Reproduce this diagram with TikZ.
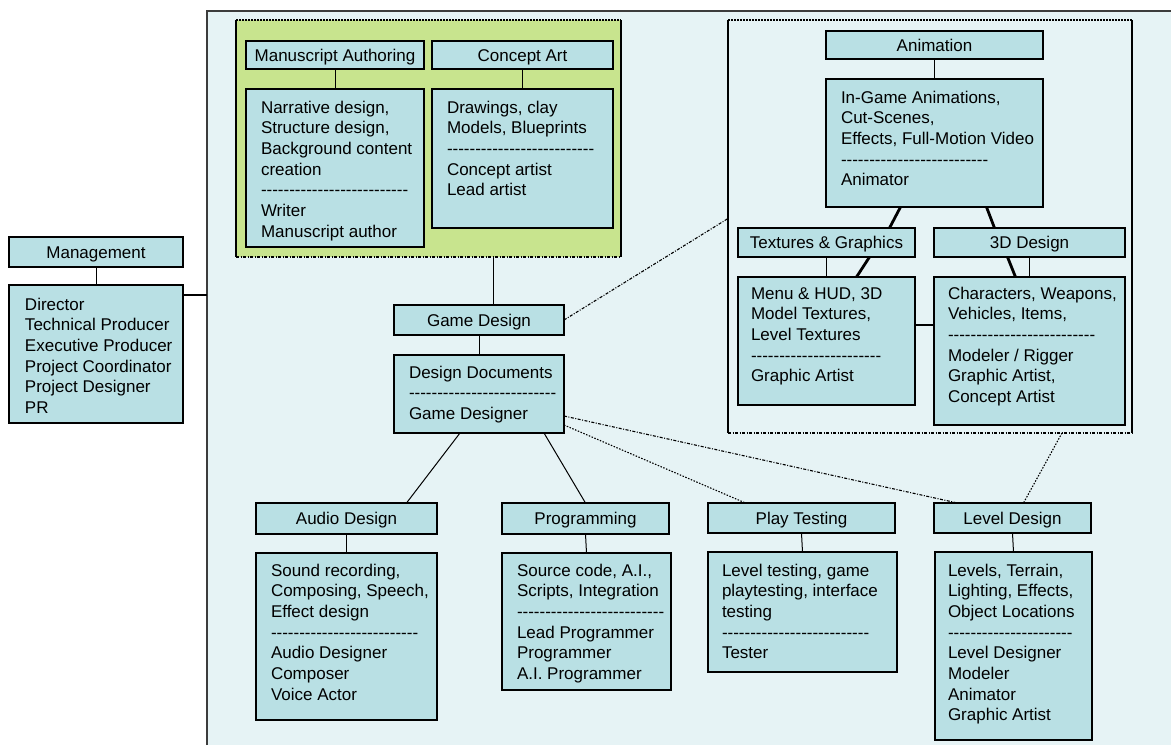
\documentclass[tikz,border=0pt]{standalone}
\usepackage{fontspec}
\setmainfont{Liberation Sans}
\usetikzlibrary{calc}
\definecolor{boxc}{RGB}{185,224,228}
\definecolor{bgc}{RGB}{230,243,245}
\definecolor{greenc}{RGB}{200,228,142}
\definecolor{framec}{RGB}{60,60,60}
\newcount\hycnt
\newcommand\dashes[1]{\hycnt=#1\relax\loop\ifnum\hycnt>0 -\kern0pt\advance\hycnt by -1\relax\repeat}
\newcommand\fs{\fontsize{17pt}{20.7pt}\selectfont}
\newcommand\bt[5]{\parbox[t][#2pt][t]{#1pt}{\fs\raggedright\setlength\leftskip{#3pt}\rule{0pt}{#4pt}\ignorespaces#5}}
\tikzset{
  hdr/.style={draw=black, line width=1.1pt, fill=boxc, inner sep=0pt, outer sep=0pt, anchor=north west, text height=12pt, text depth=0pt, font=\fs},
  body/.style={draw=black, line width=1.1pt, fill=boxc, inner sep=0pt, outer sep=0pt, anchor=north west},
  thin/.style={line width=1pt},
  thickc/.style={line width=2.8pt},
  dd/.style={line width=1.1pt, dash pattern=on 3pt off 1.5pt on 1pt off 1.5pt},
  dt/.style={line width=1.1pt, dash pattern=on 1.5pt off 1.5pt},
  side/.style={line width=1.3pt},
}
\begin{document}
\begin{tikzpicture}[x=1pt, y=-1pt]
\useasboundingbox (0,0) rectangle (1171,745);
\fill[white] (0,0) rectangle (1171,745);
% outer frame
\fill[bgc] (207,11) rectangle (1171,745);
\draw[framec, line width=1.8pt] (207,745) -- (207,11) -- (1171,11);
% green area
\node[fill=greenc, inner sep=0pt, outer sep=0pt, minimum width=385pt, minimum height=237pt, anchor=north west] (green) at (236,20) {};
\draw[side] (green.north west) -- (green.south west);
\draw[side] (green.north east) -- (green.south east);
\draw[dt] (green.north west) -- (green.north east);
\draw[dd] (green.south west) -- (green.south east);
% animation frame
\node[inner sep=0pt, outer sep=0pt, minimum width=404pt, minimum height=413pt, anchor=north west] (af) at (728,20) {};
\draw[side] (af.north west) -- (af.south west);
\draw[side] (af.north east) -- (af.south east);
\draw[dt] (af.north west) -- (af.north east);
\draw[dd] (af.south west) -- (af.south east);

% management
\node[hdr, minimum width=174pt, minimum height=30pt] (mh) at (9,237) {Management};
\node[body] (mb) at (9,285) {\bt{174}{138}{16}{25}{Director\\Technical Producer\\Executive Producer\\Project Coordinator\\Project Designer\\PR}};

% manuscript / concept
\node[hdr, minimum width=178pt, minimum height=28pt] (mah) at (246,41) {Manuscript Authoring};
\node[body] (mab) at (246,89) {\bt{178}{158}{15}{24}{Narrative design,\\Structure design,\\Background content\\creation\\\dashes{26}\\Writer\\Manuscript author}};
\node[hdr, minimum width=181pt, minimum height=28pt] (cah) at (432,41) {Concept Art};
\node[body] (cab) at (432,89) {\bt{181}{139}{15}{24}{Drawings, clay\\Models, Blueprints\\\dashes{26}\\Concept artist\\Lead artist}};

% animation
\node[hdr, minimum width=217pt, minimum height=28pt] (anh) at (826,31) {Animation};
\node[body] (anb) at (826,79) {\bt{217}{128}{15}{24}{In-Game Animations,\\Cut-Scenes,\\Effects, Full-Motion Video\\\dashes{26}\\Animator}};
\node[hdr, minimum width=177pt, minimum height=29pt] (tgh) at (738,228) {Textures \& Graphics};
\node[hdr, minimum width=191pt, minimum height=29pt] (d3h) at (934,228) {3D Design};
\node[body] (tgb) at (738,277) {\bt{177}{128}{13}{22}{Menu \& HUD, 3D\\Model Textures,\\Level Textures\\\dashes{23}\\Graphic Artist}};
\node[body] (d3b) at (934,277) {\bt{191}{148}{14}{22}{Characters, Weapons,\\Vehicles, Items,\\\dashes{26}\\Modeler / Rigger\\Graphic Artist,\\Concept Artist}};

% game design
\node[hdr, minimum width=170pt, minimum height=30pt] (gd) at (394,305) {Game Design};
\node[body] (db) at (394,355) {\bt{170}{78}{15}{23}{Design Documents\\\dashes{26}\\Game Designer}};

% bottom row
\node[hdr, minimum width=181pt, minimum height=31pt] (ah) at (256,503) {Audio Design};
\node[body] (ab) at (256,553) {\bt{181}{167}{15}{23}{Sound recording,\\Composing, Speech,\\Effect design\\\dashes{26}\\Audio Designer\\Composer\\Voice Actor}};
\node[hdr, minimum width=167pt, minimum height=31pt] (ph) at (502,503) {Programming};
\node[body] (pb) at (502,553) {\bt{169}{137}{15}{23}{Source code, A.I.,\\Scripts, Integration\\\dashes{26}\\Lead Programmer\\Programmer\\A.I. Programmer}};
\node[hdr, minimum width=187pt, minimum height=30pt] (th) at (708,503) {Play Testing};
\node[body] (tb) at (708,552) {\bt{189}{120}{14}{24}{Level testing, game\\playtesting, interface\\testing\\\dashes{26}\\Tester}};
\node[hdr, minimum width=157pt, minimum height=30pt] (lh) at (934,503) {Level Design};
\node[body] (lb) at (935,552) {\bt{157}{188}{13}{24}{Levels, Terrain,\\Lighting, Effects,\\Object Locations\\\dashes{22}\\Level Designer\\Modeler\\Animator\\Graphic Artist}};

% connectors
\draw[thin] (mh.south) -- (mb.north);
\coordinate (fl) at (207,295);
\draw[line width=2pt] (mb.east |- fl) -- (fl);
\draw[thin] (mah.south) -- (mab.north);
\draw[thin] (cah.south) -- (cab.north);
\coordinate (gdt) at ($(gd.north)+(14,0)$);
\draw[thin] (gdt) -- (gdt |- green.south);
\draw[thin] (gd.south) -- (db.north);
\draw[dd] (gd.east) -- ($(af.west)+(0,-8)$);
\draw[thin] ($(db.south)+(-19,0)$) -- ($(ah.north)+(60,0)$);
\draw[thin] ($(db.south)+(65,0)$) -- (ph.north);
\draw[dd] ($(db.east)+(0,22)$) -- ($(lh.north)+(-55,0)$);
\draw[dt] ($(db.east)+(0,31)$) -- ($(th.north)+(-56,0)$);
\draw[dt] ($(af.south)+(132,0)$) -- ($(lh.north)+(11,0)$);
\draw[thin] (ah.south) -- (ab.north);
\draw[thin] (ph.south) -- (pb.north);
\draw[thin] (th.south) -- (tb.north);
\draw[thin] (lh.south) -- (lb.north);
\draw[thin] (anh.south) -- (anb.north);
\draw[thin] (tgh.south) -- (tgb.north);
\draw[thin] (d3h.south) -- (d3b.north);
\draw[thickc] ($(anb.south)+(-34,0)$) -- ($(tgh.north)+(63,0)$);
\draw[thickc] ($(anb.south)+(52,0)$) -- ($(d3h.north)+(-35,0)$);
\draw[thickc] ($(tgh.south)+(43,0)$) -- ($(tgb.north)+(30,0)$);
\draw[thickc] ($(d3h.south)+(-22,0)$) -- ($(d3b.north)+(-14,0)$);
\coordinate (hy) at (0,325);
\draw[thickc] (tgb.east |- hy) -- (d3b.west |- hy);
\end{tikzpicture}
\end{document}
